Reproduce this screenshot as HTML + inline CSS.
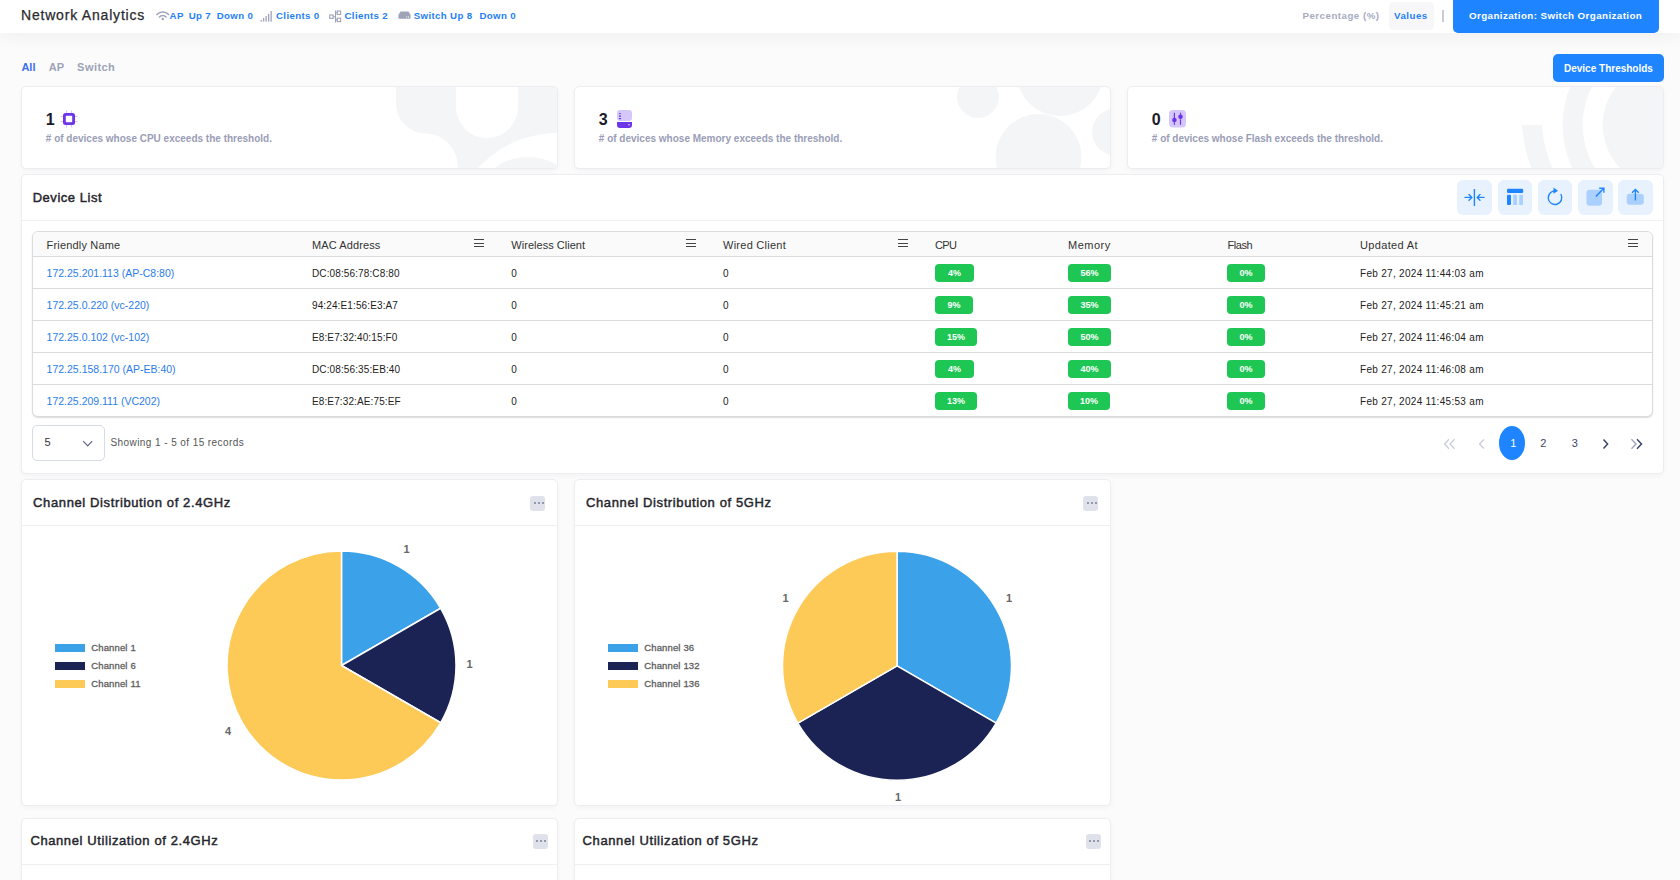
<!DOCTYPE html>
<html><head><meta charset="utf-8">
<style>
*{box-sizing:border-box;margin:0;padding:0}
html,body{width:1680px;height:880px;overflow:hidden}
body{background:#fbfbfb;font-family:"Liberation Sans",sans-serif;position:relative;color:#222}
.a{position:absolute;white-space:nowrap}
#hdr{position:absolute;left:0;top:0;width:1680px;height:33px;background:#fff;box-shadow:0 1px 18px rgba(40,40,70,.07)}
.hdt{color:#2a2a2e;-webkit-text-stroke:0.25px #2a2a2e}
.hb{color:#1f80f5;font-weight:bold}
.hg{color:#a6abc0;font-weight:bold}
.bt{color:#fff;font-weight:bold}
.tab{color:#9ea2b8;font-weight:bold}
.card{position:absolute;background:#fff;border:1px solid #ededf1;border-radius:5px;box-shadow:0 2px 5px rgba(0,0,0,.035);overflow:hidden}
.btn{position:absolute;background:#1e84ff;border-radius:5px}
.sub{color:#9a9db6;font-weight:bold}
.num{color:#1a1a2a;font-weight:bold}
.title{color:#26262c;-webkit-text-stroke:0.45px #26262c}
.tb{position:absolute;top:180px;width:35px;height:35px;background:#e8f2fe;border-radius:6px}
.th{color:#333}
.td{color:#222}
.lnk{color:#2b7de9}
.pg{color:#3d4466}
.badge{position:absolute;height:18px;background:#1ec653;border-radius:4px;color:#fff;font-size:9px;font-weight:bold;text-align:center;line-height:18px}
.menu{position:absolute;width:10px;height:8px;border-top:1px solid #444;border-bottom:1px solid #444}
.menu:after{content:"";position:absolute;left:0;top:2.5px;width:10px;height:1px;background:#444}
.dots{position:absolute;width:15px;height:15px;background:#dfe2ea;border-radius:3px}
.dots i{position:absolute;top:6.5px;width:2px;height:2px;background:#9298ae}
.leg{position:absolute;width:30px;height:8px}
.lt{color:#5e5e5e;-webkit-text-stroke:0.3px #5e5e5e}
.pl{color:#666;font-weight:bold}
</style></head><body>
<div id="hdr"></div>
<div class="a hdt" style="left:21.00px;top:8.15px;font-size:14px;line-height:14px;letter-spacing:0.8px">Network Analytics</div>
<svg class="a" style="left:155.5px;top:9.7px" width="14" height="11" viewBox="0 0 14 11">
<path d="M0.9 4.5 A8.2 8.2 0 0 1 12.6 4.5" fill="none" stroke="#9ea3b8" stroke-width="1.6" stroke-linecap="round"/>
<path d="M3.4 7 A4.8 4.8 0 0 1 10.1 7" fill="none" stroke="#9ea3b8" stroke-width="1.6" stroke-linecap="round"/>
<circle cx="6.75" cy="8.9" r="1.25" fill="#9ea3b8"/></svg>
<div class="a hb" style="left:169.60px;top:11.09px;font-size:9.7px;line-height:9.7px;letter-spacing:0.35px">AP</div>
<div class="a hb" style="left:188.70px;top:11.09px;font-size:9.7px;line-height:9.7px;letter-spacing:0.35px">Up 7</div>
<div class="a hb" style="left:216.70px;top:11.09px;font-size:9.7px;line-height:9.7px;letter-spacing:0.35px">Down 0</div>
<div class="a hb" style="left:276.00px;top:11.09px;font-size:9.7px;line-height:9.7px;letter-spacing:0.35px">Clients 0</div>
<div class="a hb" style="left:344.50px;top:11.09px;font-size:9.7px;line-height:9.7px;letter-spacing:0.35px">Clients 2</div>
<div class="a hb" style="left:413.70px;top:11.09px;font-size:9.7px;line-height:9.7px;letter-spacing:0.35px">Switch Up 8</div>
<div class="a hb" style="left:479.40px;top:11.09px;font-size:9.7px;line-height:9.7px;letter-spacing:0.35px">Down 0</div>
<svg class="a" style="left:260px;top:10px" width="13" height="12" viewBox="0 0 13 12">
<rect x="0.5" y="10" width="1.3" height="1.6" fill="#9ea3b8"/><rect x="3" y="8" width="1.3" height="3.6" fill="#9ea3b8"/>
<rect x="5.5" y="6" width="1.3" height="5.6" fill="#9ea3b8"/><rect x="8" y="4" width="1.3" height="7.6" fill="#9ea3b8"/>
<rect x="10.5" y="1" width="1.3" height="10.6" fill="#9ea3b8"/></svg>
<svg class="a" style="left:329px;top:10px" width="13" height="13" viewBox="0 0 13 13">
<rect x="0.7" y="5" width="3.4" height="3.4" fill="none" stroke="#9ea3b8" stroke-width="1.1"/>
<rect x="8.2" y="1" width="3.4" height="3.4" fill="none" stroke="#9ea3b8" stroke-width="1.1"/>
<rect x="8.2" y="8.2" width="3.4" height="3.4" fill="none" stroke="#9ea3b8" stroke-width="1.1"/>
<path d="M4.1 6.7 H6.5 M6.5 0.5 V12.5 M6.5 2.7 H8.2 M6.5 9.9 H8.2" stroke="#9ea3b8" stroke-width="1.1" fill="none"/></svg>
<svg class="a" style="left:398px;top:11px" width="13" height="8" viewBox="0 0 13 8">
<path d="M2.5 0.5 H10.5 L12.6 4 V6.8 Q12.6 7.8 11.6 7.8 H1.4 Q0.4 7.8 0.4 6.8 V4 Z" fill="#9ea3b8"/>
<rect x="8.2" y="5.5" width="1" height="1" fill="#fff"/><rect x="10" y="5.5" width="1" height="1" fill="#fff"/></svg>
<div class="a hg" style="left:1302.50px;top:11.09px;font-size:9.7px;line-height:9.7px;letter-spacing:0.5px">Percentage (%)</div>
<div class="a" style="left:1389px;top:2px;width:45px;height:28px;background:#f7f7f9;border-radius:5px"></div>
<div class="a hb" style="left:1394.00px;top:11.09px;font-size:9.7px;line-height:9.7px;letter-spacing:0.5px">Values</div>
<div class="a" style="left:1442px;top:9.5px;width:2px;height:12px;background:#c8cbd5"></div>
<div class="btn" style="left:1453px;top:-5px;width:206px;height:38px"></div>
<div class="a bt" style="left:1469.00px;top:11.20px;font-size:9.8px;line-height:9.8px;letter-spacing:0.4px">Organization: Switch Organization</div>
<div class="a tab" style="left:21.40px;top:61.69px;font-size:11px;line-height:11px;color:#3b6ff0">All</div>
<div class="a tab" style="left:48.80px;top:61.69px;font-size:11px;line-height:11px;">AP</div>
<div class="a tab" style="left:77.10px;top:61.69px;font-size:11px;line-height:11px;letter-spacing:0.45px">Switch</div>
<div class="btn" style="left:1553px;top:54px;width:111px;height:28px"></div>
<div class="a bt" style="left:1564.00px;top:63.53px;font-size:10px;line-height:10px;">Device Thresholds</div>
<div class="card" style="left:21px;top:86px;width:537px;height:83px"><svg class="a" style="left:0;top:0" width="535" height="82"  viewBox="22 87 535 82">
<path fill="#f4f5f7" d="M396 86 V103 A30 30 0 0 0 426 133.5 C445 134 458 150 458 168 H478 C500 145 525 134 557 133 V86 H518 V107 A31 31 0 0 1 456 107 V86 Z"/>
<ellipse cx="528" cy="183" rx="40" ry="26" fill="#f4f5f7"/></svg>
</div>
<div class="a num" style="left:45.80px;top:112.46px;font-size:16px;line-height:16px;">1</div>
<div class="a sub" style="left:45.80px;top:134.03px;font-size:10px;line-height:10px;"># of devices whose CPU exceeds the threshold.</div>
<div class="card" style="left:574px;top:86px;width:537px;height:83px"><svg class="a" style="left:0;top:0" width="535" height="82"  viewBox="575 87 535 82">
<circle cx="978" cy="97" r="21" fill="#f4f5f7"/><circle cx="1060" cy="72.5" r="43.5" fill="#f4f5f7"/>
<circle cx="1038.5" cy="157" r="43" fill="#f4f5f7"/><circle cx="1115.5" cy="132" r="23.4" fill="#f4f5f7"/></svg>
</div>
<div class="a num" style="left:598.80px;top:112.46px;font-size:16px;line-height:16px;">3</div>
<div class="a sub" style="left:598.80px;top:134.03px;font-size:10px;line-height:10px;"># of devices whose Memory exceeds the threshold.</div>
<div class="card" style="left:1127px;top:86px;width:537px;height:83px"><svg class="a" style="left:0;top:0" width="535" height="82"  viewBox="1128 87 535 82">
<circle cx="1664.7" cy="125" r="62" fill="#f4f5f7"/>
<circle cx="1664.7" cy="125" r="92" fill="none" stroke="#f4f5f7" stroke-width="20"/>
<path d="M1521.9 125 A142.8 142.8 0 0 0 1807 125 H1787 A122.7 122.7 0 0 1 1542 125 Z" fill="#f4f5f7"/></svg>
</div>
<div class="a num" style="left:1151.80px;top:112.46px;font-size:16px;line-height:16px;">0</div>
<div class="a sub" style="left:1151.80px;top:134.03px;font-size:10px;line-height:10px;"># of devices whose Flash exceeds the threshold.</div>
<svg class="a" style="left:60px;top:110px" width="18" height="18" viewBox="0 0 18 18">
<g stroke="#cbb8fb" stroke-width="0.8"><path d="M6.5 0.5V3 M11.5 0.5V3 M6.5 15V17.5 M11.5 15V17.5 M0.5 6.5H3 M0.5 11.5H3 M15 6.5H17.5 M15 11.5H17.5"/></g>
<rect x="3" y="3" width="12" height="12" rx="2.5" fill="#6d35ea"/><rect x="5.8" y="5.8" width="6.4" height="6.4" rx="0.8" fill="#fff"/></svg>
<svg class="a" style="left:617px;top:110px" width="15" height="18" viewBox="0 0 15 18">
<rect x="0" y="0" width="15" height="11" rx="3" fill="#d6c7fb"/>
<rect x="2" y="3" width="2" height="1.2" fill="#8c62ef"/><rect x="2" y="5.5" width="2" height="1.2" fill="#6d35ea"/><rect x="2" y="8" width="2" height="1.2" fill="#6d35ea"/>
<path d="M0 12 H15 V15 A3 3 0 0 1 12 18 H3 A3 3 0 0 1 0 15 Z" fill="#6d35ea"/>
<path d="M11 14.3 H13 L12 15.8 Z" fill="#fff"/></svg>
<svg class="a" style="left:1169px;top:110px" width="18" height="18" viewBox="0 0 18 18">
<rect x="0" y="0" width="17" height="17.6" rx="4" fill="#d6c7fb"/>
<path d="M5.4 2.8 V7 M5.4 12.5 V14.7 M11.5 2.8 V4.5 M11.5 9.5 V14.7" stroke="#6d35ea" stroke-width="1.2"/>
<path d="M5.4 7 V12.5 M11.5 4.5 V9.5" stroke="#6d35ea" stroke-width="1.2"/>
<circle cx="5.4" cy="10" r="2.3" fill="#6d35ea"/><circle cx="11.5" cy="6.8" r="2.3" fill="#6d35ea"/></svg>
<div class="card" style="left:21px;top:174px;width:1643px;height:300px"></div>
<div class="a title" style="left:32.70px;top:191.00px;font-size:13px;line-height:13px;letter-spacing:0.53px">Device List</div>
<div class="a" style="left:22px;top:220px;width:1642px;height:1px;background:#eef0f3"></div>
<div class="tb" style="left:1457px;width:35px"></div>
<div class="tb" style="left:1498px;width:34px"></div>
<div class="tb" style="left:1538px;width:34px"></div>
<div class="tb" style="left:1578px;width:35px"></div>
<div class="tb" style="left:1618px;width:35px"></div>
<svg class="a" style="left:1457px;top:180px" width="35" height="35" viewBox="1457 180 35 35">
<path d="M1474.4 189 V206" stroke="#1e84ff" stroke-width="1.4"/>
<path d="M1465 197.4 H1471.8 M1469 194.6 L1471.8 197.4 L1469 200.2" stroke="#1e84ff" stroke-width="1.4" fill="none" stroke-linecap="round" stroke-linejoin="round"/>
<path d="M1484 197.4 H1477.2 M1480 194.6 L1477.2 197.4 L1480 200.2" stroke="#1e84ff" stroke-width="1.4" fill="none" stroke-linecap="round" stroke-linejoin="round"/></svg>
<svg class="a" style="left:1498px;top:180px" width="35" height="35" viewBox="1498 180 35 35">
<rect x="1507" y="188.7" width="16.2" height="4.2" rx="1.2" fill="#1e84ff"/>
<rect x="1507" y="194.8" width="4" height="10.2" rx="1" fill="#1e84ff"/>
<rect x="1513.2" y="194.8" width="3.8" height="10.2" rx="0.6" fill="#a9d0fe"/>
<rect x="1519.2" y="194.8" width="3.8" height="10.2" rx="0.6" fill="#a9d0fe"/></svg>
<svg class="a" style="left:1538px;top:180px" width="35" height="35" viewBox="1538 180 35 35">
<path d="M1561 194.5 A6.8 6.8 0 1 1 1556 191" fill="none" stroke="#1e84ff" stroke-width="1.4" stroke-linecap="round"/>
<path d="M1553.5 187.5 L1558 190.8 L1553.5 193.8 Z" fill="#1e84ff"/></svg>
<svg class="a" style="left:1578px;top:180px" width="35" height="35" viewBox="1578 180 35 35">
<rect x="1586.5" y="189.8" width="15.5" height="16" rx="3" fill="#a9d0fe"/>
<path d="M1595.9 196.5 L1603.5 188.6 M1599.2 188.2 H1603.9 V192.8" stroke="#1e84ff" stroke-width="1.4" fill="none"/></svg>
<svg class="a" style="left:1618px;top:180px" width="35" height="35" viewBox="1618 180 35 35">
<rect x="1626.7" y="193.8" width="17.1" height="11" rx="3" fill="#a9d0fe"/>
<path d="M1635.4 189.5 V200.5 M1632 192.8 L1635.4 189.4 L1638.8 192.8" stroke="#1e84ff" stroke-width="1.4" fill="none"/></svg>
<div class="a" style="left:32px;top:231px;width:1621px;height:186px;border:1px solid #dcdcdc;border-radius:6px;background:#fff;box-shadow:0 1px 1.5px rgba(0,0,0,.14);overflow:hidden"><div style="position:absolute;left:0;top:0;width:100%;height:25px;background:#fafafa;border-bottom:1px solid #dcdcdc"></div><div style="position:absolute;left:0;top:56px;width:100%;height:1px;background:#dcdcdc"></div><div style="position:absolute;left:0;top:88px;width:100%;height:1px;background:#dcdcdc"></div><div style="position:absolute;left:0;top:120px;width:100%;height:1px;background:#dcdcdc"></div><div style="position:absolute;left:0;top:152px;width:100%;height:1px;background:#dcdcdc"></div></div>
<div class="a th" style="left:46.60px;top:240.09px;font-size:11px;line-height:11px;letter-spacing:0.17px">Friendly Name</div>
<div class="a th" style="left:312.00px;top:240.09px;font-size:11px;line-height:11px;letter-spacing:0.11px">MAC Address</div>
<div class="a th" style="left:511.30px;top:240.09px;font-size:11px;line-height:11px;letter-spacing:0.03px">Wireless Client</div>
<div class="a th" style="left:723.00px;top:240.09px;font-size:11px;line-height:11px;letter-spacing:0.26px">Wired Client</div>
<div class="a th" style="left:935.00px;top:240.09px;font-size:11px;line-height:11px;letter-spacing:-0.7px">CPU</div>
<div class="a th" style="left:1068.00px;top:240.09px;font-size:11px;line-height:11px;letter-spacing:0.5px">Memory</div>
<div class="a th" style="left:1227.40px;top:240.09px;font-size:11px;line-height:11px;letter-spacing:-0.4px">Flash</div>
<div class="a th" style="left:1360.00px;top:240.09px;font-size:11px;line-height:11px;letter-spacing:0.34px">Updated At</div>
<div class="menu" style="left:474px;top:239px"></div>
<div class="menu" style="left:685.5px;top:239px"></div>
<div class="menu" style="left:897.5px;top:239px"></div>
<div class="menu" style="left:1628px;top:239px"></div>
<div class="a lnk" style="left:46.60px;top:268.11px;font-size:10.5px;line-height:10.5px;">172.25.201.113 (AP-C8:80)</div>
<div class="a td" style="left:312.00px;top:269.04px;font-size:10px;line-height:10px;letter-spacing:0.12px">DC:08:56:78:C8:80</div>
<div class="a td" style="left:511.30px;top:269.04px;font-size:10px;line-height:10px;">0</div>
<div class="a td" style="left:723.00px;top:269.04px;font-size:10px;line-height:10px;">0</div>
<div class="badge" style="left:935px;top:264px;width:39px">4%</div>
<div class="badge" style="left:1068px;top:264px;width:43px">56%</div>
<div class="badge" style="left:1227px;top:264px;width:38px">0%</div>
<div class="a td" style="left:1360.00px;top:269.04px;font-size:10px;line-height:10px;letter-spacing:0.3px">Feb 27, 2024 11:44:03 am</div>
<div class="a lnk" style="left:46.60px;top:300.11px;font-size:10.5px;line-height:10.5px;">172.25.0.220 (vc-220)</div>
<div class="a td" style="left:312.00px;top:301.04px;font-size:10px;line-height:10px;letter-spacing:0.12px">94:24:E1:56:E3:A7</div>
<div class="a td" style="left:511.30px;top:301.04px;font-size:10px;line-height:10px;">0</div>
<div class="a td" style="left:723.00px;top:301.04px;font-size:10px;line-height:10px;">0</div>
<div class="badge" style="left:935px;top:296px;width:38px">9%</div>
<div class="badge" style="left:1068px;top:296px;width:43px">35%</div>
<div class="badge" style="left:1227px;top:296px;width:38px">0%</div>
<div class="a td" style="left:1360.00px;top:301.04px;font-size:10px;line-height:10px;letter-spacing:0.3px">Feb 27, 2024 11:45:21 am</div>
<div class="a lnk" style="left:46.60px;top:332.11px;font-size:10.5px;line-height:10.5px;">172.25.0.102 (vc-102)</div>
<div class="a td" style="left:312.00px;top:333.04px;font-size:10px;line-height:10px;letter-spacing:0.12px">E8:E7:32:40:15:F0</div>
<div class="a td" style="left:511.30px;top:333.04px;font-size:10px;line-height:10px;">0</div>
<div class="a td" style="left:723.00px;top:333.04px;font-size:10px;line-height:10px;">0</div>
<div class="badge" style="left:935px;top:328px;width:42px">15%</div>
<div class="badge" style="left:1068px;top:328px;width:43px">50%</div>
<div class="badge" style="left:1227px;top:328px;width:38px">0%</div>
<div class="a td" style="left:1360.00px;top:333.04px;font-size:10px;line-height:10px;letter-spacing:0.3px">Feb 27, 2024 11:46:04 am</div>
<div class="a lnk" style="left:46.60px;top:364.11px;font-size:10.5px;line-height:10.5px;">172.25.158.170 (AP-EB:40)</div>
<div class="a td" style="left:312.00px;top:365.04px;font-size:10px;line-height:10px;letter-spacing:0.12px">DC:08:56:35:EB:40</div>
<div class="a td" style="left:511.30px;top:365.04px;font-size:10px;line-height:10px;">0</div>
<div class="a td" style="left:723.00px;top:365.04px;font-size:10px;line-height:10px;">0</div>
<div class="badge" style="left:935px;top:360px;width:39px">4%</div>
<div class="badge" style="left:1068px;top:360px;width:43px">40%</div>
<div class="badge" style="left:1227px;top:360px;width:38px">0%</div>
<div class="a td" style="left:1360.00px;top:365.04px;font-size:10px;line-height:10px;letter-spacing:0.3px">Feb 27, 2024 11:46:08 am</div>
<div class="a lnk" style="left:46.60px;top:396.11px;font-size:10.5px;line-height:10.5px;">172.25.209.111 (VC202)</div>
<div class="a td" style="left:312.00px;top:397.04px;font-size:10px;line-height:10px;letter-spacing:0.12px">E8:E7:32:AE:75:EF</div>
<div class="a td" style="left:511.30px;top:397.04px;font-size:10px;line-height:10px;">0</div>
<div class="a td" style="left:723.00px;top:397.04px;font-size:10px;line-height:10px;">0</div>
<div class="badge" style="left:935px;top:392px;width:42px">13%</div>
<div class="badge" style="left:1068px;top:392px;width:42px">10%</div>
<div class="badge" style="left:1227px;top:392px;width:38px">0%</div>
<div class="a td" style="left:1360.00px;top:397.04px;font-size:10px;line-height:10px;letter-spacing:0.3px">Feb 27, 2024 11:45:53 am</div>
<div class="a" style="left:32px;top:425px;width:73px;height:36px;border:1px solid #d6dbe7;border-radius:5px;background:#fff"></div>
<div class="a td" style="left:44.40px;top:437.19px;font-size:11px;line-height:11px;color:#333">5</div>
<svg class="a" style="left:82px;top:440px" width="12" height="8" viewBox="0 0 12 8"><path d="M1.2 1.2 L5.7 5.8 L10.2 1.2" fill="none" stroke="#5d6482" stroke-width="1.2"/></svg>
<div class="a td" style="left:110.50px;top:437.54px;font-size:10px;line-height:10px;color:#555;letter-spacing:0.42px">Showing 1 - 5 of 15 records</div>
<div class="a" style="left:1499px;top:426px;width:26px;height:34px;border-radius:50%;background:#1e84ff"></div>
<div class="a pg" style="left:1510.20px;top:437.89px;font-size:11px;line-height:11px;color:#fff">1</div>
<div class="a pg" style="left:1540.20px;top:437.89px;font-size:11px;line-height:11px;">2</div>
<div class="a pg" style="left:1571.80px;top:437.89px;font-size:11px;line-height:11px;">3</div>
<svg class="a" style="left:1440px;top:436px" width="210" height="16" viewBox="1440 436 210 16">
<path d="M1449 439.3 L1444.5 444 L1449 448.7" fill="none" stroke="#c9cdd9" stroke-width="1.3"/>
<path d="M1454.5 439.3 L1450 444 L1454.5 448.7" fill="none" stroke="#c9cdd9" stroke-width="1.3"/>
<path d="M1484 439.5 L1479.6 444 L1484 448.5" fill="none" stroke="#c9cdd9" stroke-width="1.3"/>
<path d="M1603.5 439.5 L1607.6 444 L1603.5 448.5" fill="none" stroke="#3d4466" stroke-width="1.5"/>
<path d="M1631.5 439.3 L1636 444 L1631.5 448.7" fill="none" stroke="#a3a8bd" stroke-width="1.5"/>
<path d="M1637 439.3 L1641.5 444 L1637 448.7" fill="none" stroke="#3d4466" stroke-width="1.5"/></svg>
<div class="card" style="left:21px;top:479px;width:537px;height:327px"></div>
<div class="a title" style="left:33.10px;top:496.30px;font-size:13px;line-height:13px;letter-spacing:0.62px">Channel Distribution of 2.4GHz</div>
<div class="dots" style="left:530.4px;top:495.5px"><i style="left:3.8px"></i><i style="left:7.6px"></i><i style="left:11.4px"></i></div>
<div class="a" style="left:22px;top:525px;width:536px;height:1px;background:#eef0f3"></div>
<div class="card" style="left:574px;top:479px;width:537px;height:327px"></div>
<div class="a title" style="left:586.00px;top:496.30px;font-size:13px;line-height:13px;letter-spacing:0.62px">Channel Distribution of 5GHz</div>
<div class="dots" style="left:1083.3px;top:495.5px"><i style="left:3.8px"></i><i style="left:7.6px"></i><i style="left:11.4px"></i></div>
<div class="a" style="left:575px;top:525px;width:536px;height:1px;background:#eef0f3"></div>
<svg class="a" style="left:0;top:0" width="1680" height="880"><path d="M341.5 665.5 L341.50 551.00 A114.5 114.5 0 0 1 440.66 608.25 Z" fill="#3ba1e9" stroke="#fff" stroke-width="1.5" stroke-linejoin="round"/><path d="M341.5 665.5 L440.66 608.25 A114.5 114.5 0 0 1 440.66 722.75 Z" fill="#1a2354" stroke="#fff" stroke-width="1.5" stroke-linejoin="round"/><path d="M341.5 665.5 L440.66 722.75 A114.5 114.5 0 1 1 341.50 551.00 Z" fill="#fdca57" stroke="#fff" stroke-width="1.5" stroke-linejoin="round"/><path d="M897 665.8 L897.00 551.30 A114.5 114.5 0 0 1 996.16 723.05 Z" fill="#3ba1e9" stroke="#fff" stroke-width="1.5" stroke-linejoin="round"/><path d="M897 665.8 L996.16 723.05 A114.5 114.5 0 0 1 797.84 723.05 Z" fill="#1a2354" stroke="#fff" stroke-width="1.5" stroke-linejoin="round"/><path d="M897 665.8 L797.84 723.05 A114.5 114.5 0 0 1 897.00 551.30 Z" fill="#fdca57" stroke="#fff" stroke-width="1.5" stroke-linejoin="round"/></svg>
<div class="a pl" style="left:403.50px;top:543.69px;font-size:11px;line-height:11px;">1</div>
<div class="a pl" style="left:466.40px;top:659.49px;font-size:11px;line-height:11px;">1</div>
<div class="a pl" style="left:225.00px;top:726.39px;font-size:11px;line-height:11px;">4</div>
<div class="a pl" style="left:1006.00px;top:592.89px;font-size:11px;line-height:11px;">1</div>
<div class="a pl" style="left:782.50px;top:592.89px;font-size:11px;line-height:11px;">1</div>
<div class="a pl" style="left:895.00px;top:791.89px;font-size:11px;line-height:11px;">1</div>
<div class="leg" style="left:55px;top:644.3px;background:#3ba1e9"></div>
<div class="a lt" style="left:91.20px;top:643.46px;font-size:9.5px;line-height:9.5px;letter-spacing:0.15px">Channel 1</div>
<div class="leg" style="left:55px;top:662.1px;background:#1a2354"></div>
<div class="a lt" style="left:91.20px;top:661.26px;font-size:9.5px;line-height:9.5px;letter-spacing:0.15px">Channel 6</div>
<div class="leg" style="left:55px;top:679.6px;background:#fdca57"></div>
<div class="a lt" style="left:91.20px;top:678.76px;font-size:9.5px;line-height:9.5px;letter-spacing:0.15px">Channel 11</div>
<div class="leg" style="left:608px;top:644.3px;background:#3ba1e9"></div>
<div class="a lt" style="left:644.20px;top:643.46px;font-size:9.5px;line-height:9.5px;letter-spacing:0.15px">Channel 36</div>
<div class="leg" style="left:608px;top:662.1px;background:#1a2354"></div>
<div class="a lt" style="left:644.20px;top:661.26px;font-size:9.5px;line-height:9.5px;letter-spacing:0.15px">Channel 132</div>
<div class="leg" style="left:608px;top:679.6px;background:#fdca57"></div>
<div class="a lt" style="left:644.20px;top:678.76px;font-size:9.5px;line-height:9.5px;letter-spacing:0.15px">Channel 136</div>
<div class="card" style="left:21px;top:818px;width:537px;height:100px"></div>
<div class="a title" style="left:30.40px;top:834.00px;font-size:13px;line-height:13px;letter-spacing:0.6px">Channel Utilization of 2.4GHz</div>
<div class="dots" style="left:532.5px;top:833.5px"><i style="left:3.8px"></i><i style="left:7.6px"></i><i style="left:11.4px"></i></div>
<div class="a" style="left:22px;top:864px;width:536px;height:1px;background:#eef0f3"></div>
<div class="card" style="left:574px;top:818px;width:537px;height:100px"></div>
<div class="a title" style="left:582.60px;top:834.00px;font-size:13px;line-height:13px;letter-spacing:0.6px">Channel Utilization of 5GHz</div>
<div class="dots" style="left:1085.5px;top:833.5px"><i style="left:3.8px"></i><i style="left:7.6px"></i><i style="left:11.4px"></i></div>
<div class="a" style="left:575px;top:864px;width:536px;height:1px;background:#eef0f3"></div>
</body></html>
